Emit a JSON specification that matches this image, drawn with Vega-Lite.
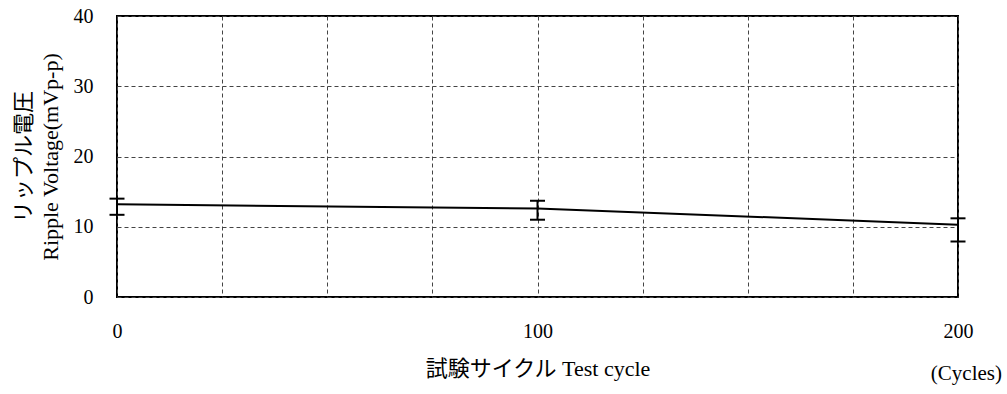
{
  "$schema": "https://vega.github.io/schema/vega-lite/v6.json",
  "width": 841,
  "height": 281,
  "autosize": "none",
  "padding": {"left": 117, "top": 16, "right": 49, "bottom": 97},
  "background": "white",
  "config": {
    "view": {"stroke": "black", "strokeWidth": 2},
    "font": "Liberation Serif",
    "axis": {
      "grid": true,
      "gridColor": "#444",
      "gridDash": [4, 3],
      "gridWidth": 1,
      "gridOpacity": 1,
      "ticks": false,
      "domain": false,
      "labelFlush": false,
      "labelFont": "Liberation Serif",
      "labelFontSize": 20,
      "labelColor": "black",
      "labelPadding": 24,
      "titleFont": "Liberation Serif, Noto Sans CJK JP",
      "titleFontWeight": "normal",
      "titleColor": "black"
    },
    "axisY": {"labelFont": "Liberation Serif"}
  },
  "title": {
    "text": "(Cycles)",
    "orient": "bottom",
    "anchor": "end",
    "font": "Liberation Serif",
    "fontSize": 21,
    "fontWeight": "normal",
    "color": "black",
    "dx": 29,
    "offset": -16
  },
  "data": {
    "values": [
      {"cycle": 0, "v": 13.2, "low": 11.7, "high": 14.0},
      {"cycle": 100, "v": 12.6, "low": 11.0, "high": 13.7},
      {"cycle": 200, "v": 10.3, "low": 7.9, "high": 11.2}
    ]
  },
  "layer": [
    {
      "mark": {"type": "line", "color": "black", "strokeWidth": 2},
      "encoding": {
        "x": {
          "field": "cycle",
          "type": "quantitative",
          "scale": {"domain": [0, 200], "nice": false, "zero": false},
          "axis": {
            "values": [0, 25, 50, 75, 100, 125, 150, 175, 200],
            "labelExpr": "datum.value % 100 === 0 ? datum.label : ''",
            "labelFont": "Liberation Serif",
            "title": "試験サイクル  Test cycle",
            "titleFontSize": 22,
            "titlePadding": 17
          }
        },
        "y": {
          "field": "v",
          "type": "quantitative",
          "scale": {"domain": [0, 40], "nice": false},
          "axis": {
            "values": [0, 10, 20, 30, 40],
            "labelFont": "Liberation Serif",
            "labelFontSize": 20,
            "labelPadding": 24,
            "title": ["リップル電圧", "Ripple Voltage(mVp-p)"],
            "titleFont": "Liberation Serif, Noto Sans CJK JP",
            "titleFontSize": 22,
            "titleLineHeight": 27,
            "titlePadding": 11
          }
        }
      }
    },
    {
      "mark": {"type": "rule", "color": "black", "strokeWidth": 2},
      "encoding": {
        "x": {"field": "cycle", "type": "quantitative"},
        "y": {"field": "low", "type": "quantitative"},
        "y2": {"field": "high"}
      }
    },
    {
      "mark": {"type": "tick", "orient": "horizontal", "color": "black", "size": 15, "thickness": 2, "opacity": 1},
      "encoding": {
        "x": {"field": "cycle", "type": "quantitative"},
        "y": {"field": "low", "type": "quantitative"}
      }
    },
    {
      "mark": {"type": "tick", "orient": "horizontal", "color": "black", "size": 15, "thickness": 2, "opacity": 1},
      "encoding": {
        "x": {"field": "cycle", "type": "quantitative"},
        "y": {"field": "high", "type": "quantitative"}
      }
    }
  ]
}
